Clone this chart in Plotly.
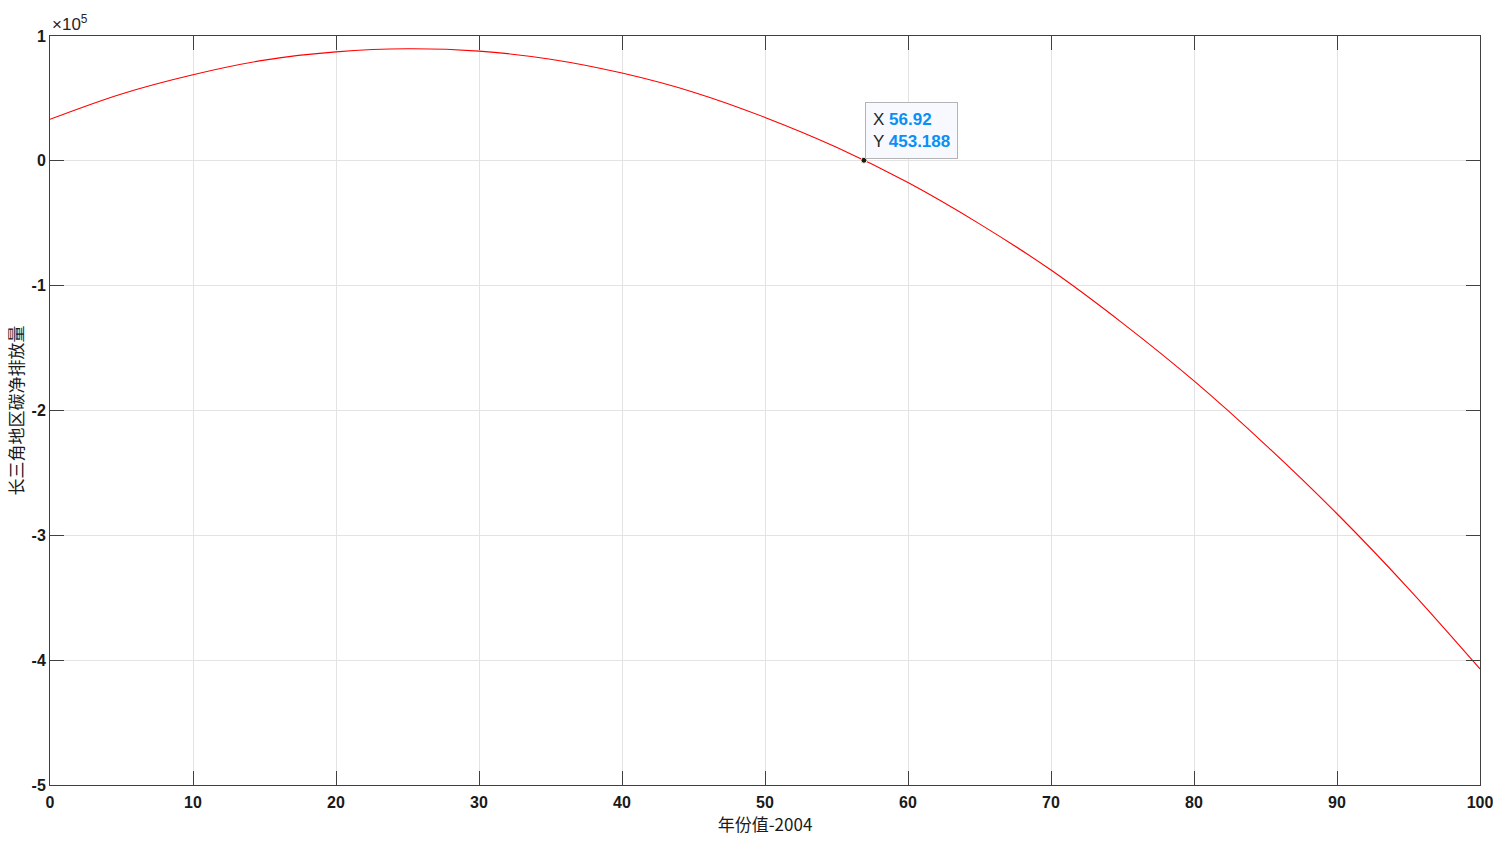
import plotly.graph_objects as go

# values (x = year - 2004, y = net emission)
years = [0, 5, 10, 15, 20, 25, 30, 35, 40, 45, 50, 55, 60, 65, 70, 75, 80, 85, 90, 95, 100]
emission = [33300, 53600, 69000, 80700, 87300, 89800, 87900, 81400, 70300, 55000, 34800,
            10900, -17400, -50500, -87500, -130000, -176300, -227500, -282700, -342600, -407000]

tip_x = [56.92]
tip_y = [453.188]

x_ticks = [0, 10, 20, 30, 40, 50, 60, 70, 80, 90, 100]
y_ticks = [-500000, -400000, -300000, -200000, -100000, 0, 100000]
y_ticktext = ["-5", "-4", "-3", "-2", "-1", "0", "1"]

fig = go.Figure()
fig.add_trace(go.Scatter(x=years, y=emission, mode="lines", line=dict(color="#ff0000", width=1.1, shape="spline"),
                         showlegend=False, hoverinfo="skip"))
fig.add_trace(go.Scatter(x=tip_x, y=tip_y, mode="markers",
                         marker=dict(color="#1a1a1a", size=6, line=dict(color="#fff6d0", width=1)),
                         showlegend=False))

fig.add_annotation(x=tip_x[0], y=tip_y[0], xref="x", yref="y", xanchor="left", yanchor="bottom",
                   xshift=1, yshift=1, showarrow=False, align="left",
                   text=f"X <b><span style='color:#0a8ff5'>{tip_x[0]}</span></b><br>Y <b><span style='color:#0a8ff5'>{tip_y[0]}</span></b>",
                   font=dict(family="Liberation Sans, Arial", size=17, color="#262626"),
                   bgcolor="#f8f9ff", bordercolor="#b4b4b4", borderwidth=1, borderpad=7)

fig.add_annotation(x=0, y=1, xref="paper", yref="paper", xanchor="left", yanchor="bottom",
                   yshift=0, showarrow=False, text="×10<sup>5</sup>",
                   font=dict(family="Liberation Sans, Arial", size=17, color="#262626"))

axis_common = dict(showline=True, linecolor="#404040", linewidth=1, mirror="ticks",
                   ticks="inside", ticklen=14, tickcolor="#404040", tickwidth=1,
                   showgrid=True, gridcolor="#e3e3e3", gridwidth=1, zeroline=False,
                   ticklabeloverflow="allow",
                   tickfont=dict(family="Liberation Sans, Arial", size=16, color="#1a1a1a", weight="bold"))

fig.update_xaxes(range=[0, 100], tickvals=x_ticks, ticklabelstandoff=3, automargin="height", **axis_common,
                 title=dict(text="年份值-2004", font=dict(family="Noto Sans CJK SC", size=17, color="#1a1a1a"),
                            standoff=4))
fig.update_yaxes(range=[-500000, 100000], tickvals=y_ticks, ticktext=y_ticktext, automargin=True, **axis_common,
                 title=dict(text="长三角地区碳净排放量", font=dict(family="Noto Sans CJK SC", size=17, color="#1a1a1a"),
                            standoff=3))

fig.update_layout(width=1493, height=850, margin=dict(l=50, r=13, t=36, b=65),
                  plot_bgcolor="white", paper_bgcolor="white")

# remove the page's default body margin so the figure fills the window exactly
fig.write_html("out.html", config={"displayModeBar": False},
               post_script="document.body.style.margin='0';")
